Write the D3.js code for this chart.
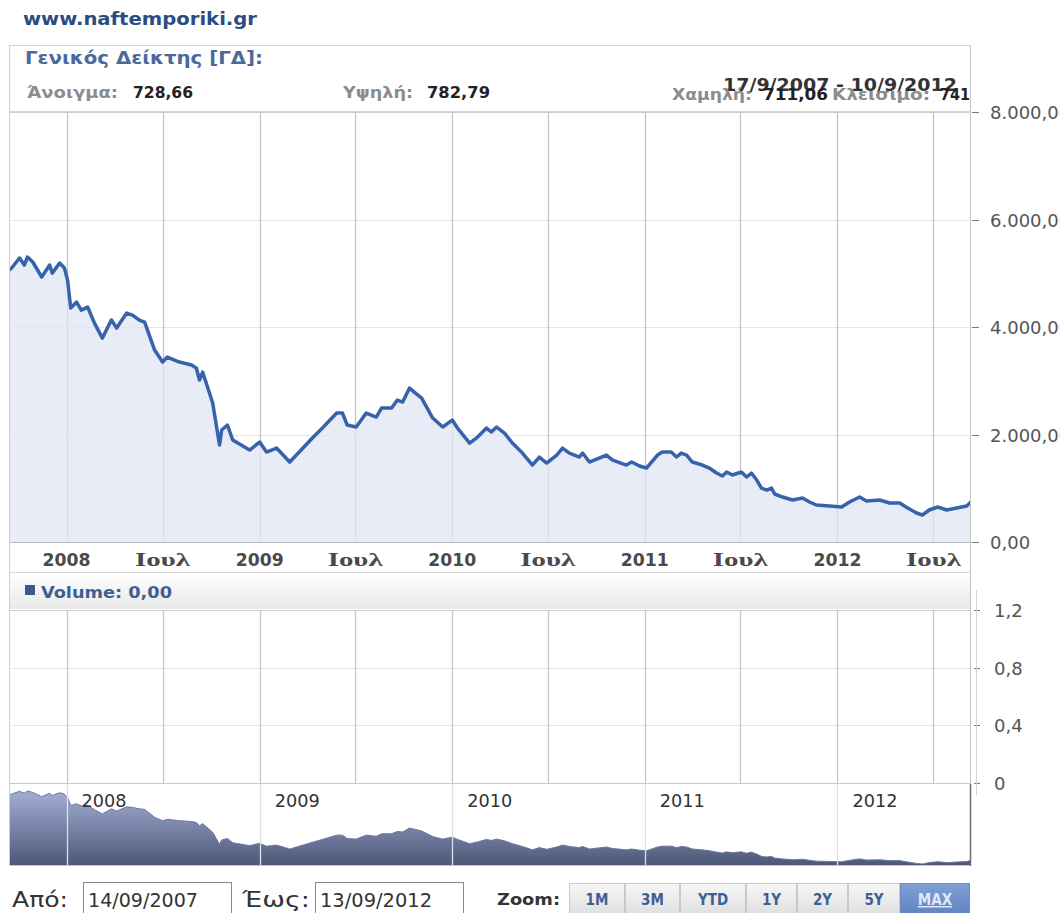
<!DOCTYPE html>
<html><head><meta charset="utf-8">
<script src="https://cdn.jsdelivr.net/npm/d3@7"></script>
<style>body{margin:0;background:#fff;overflow:hidden} svg{display:block}</style>
</head><body>
<svg id="c" width="1060" height="913"></svg>
<script>
// ---------- DATA ----------
const dates = ["2007-09-14","2007-09-19","2007-10-04","2007-10-13","2007-10-19","2007-10-29","2007-11-15","2007-11-30","2007-12-05","2007-12-19","2007-12-28",
"2008-01-03","2008-01-09","2008-01-20","2008-01-29","2008-02-10","2008-02-23","2008-03-09","2008-03-26","2008-04-05","2008-04-24","2008-05-05","2008-05-18","2008-05-28","2008-06-16","2008-07-01","2008-07-10","2008-08-02","2008-08-25","2008-09-03","2008-09-09","2008-09-15","2008-10-04","2008-10-17","2008-10-21","2008-11-01","2008-11-11","2008-12-13",
"2009-01-01","2009-01-14","2009-02-02","2009-02-27","2009-03-17","2009-04-11","2009-04-30","2009-05-27","2009-06-07","2009-06-16","2009-07-03","2009-07-22","2009-08-10","2009-08-20","2009-09-08","2009-09-19","2009-09-29","2009-10-12","2009-10-21","2009-11-04","2009-11-25","2009-12-14",
"2010-01-01","2010-01-11","2010-02-03","2010-02-18","2010-03-07","2010-03-16","2010-03-26","2010-04-10","2010-04-25","2010-05-14","2010-06-02","2010-06-15","2010-06-29","2010-07-18","2010-07-29","2010-08-11","2010-08-30","2010-09-05","2010-09-18","2010-10-20","2010-11-01","2010-11-27","2010-12-07","2010-12-22",
"2011-01-04","2011-01-25","2011-02-03","2011-02-20","2011-03-02","2011-03-11","2011-03-21","2011-04-01","2011-04-20","2011-05-03","2011-05-17","2011-05-28","2011-06-05","2011-06-16","2011-07-03","2011-07-13","2011-07-22","2011-08-01","2011-08-10","2011-08-20","2011-08-29","2011-09-04","2011-09-19","2011-10-08","2011-10-27","2011-11-09","2011-11-22","2011-12-17",
"2012-01-09","2012-01-24","2012-02-12","2012-02-25","2012-03-21","2012-04-09","2012-04-28","2012-05-13","2012-05-30","2012-06-10","2012-06-23","2012-07-09","2012-07-26","2012-08-14","2012-09-02","2012-09-10"];
const values = [5060,5097,5284,5153,5302,5209,4930,5153,5003,5190,5097,
4873,4352,4464,4315,4371,4073,3794,4129,3980,4259,4222,4129,4092,3571,3348,3441,3348,3292,3236,3013,3162,2585,1804,2083,2176,1897,1711,
1860,1674,1748,1488,1674,1934,2120,2399,2399,2176,2139,2399,2325,2492,2492,2641,2604,2864,2790,2678,2306,2139,
2269,2120,1841,1953,2120,2046,2139,2027,1841,1655,1432,1581,1469,1618,1748,1655,1581,1655,1488,1618,1525,1432,1488,1414,
1376,1618,1674,1674,1581,1655,1618,1488,1432,1376,1283,1228,1302,1246,1302,1209,1283,1153,1004,967,1004,893,837,781,818,744,688,670,
651,744,837,763,781,725,725,632,539,502,595,651,595,632,670,744];

const xTickDates = ["2008-01-01","2008-07-01","2009-01-01","2009-07-01","2010-01-01","2010-07-01","2011-01-01","2011-07-01","2012-01-01","2012-07-01"];
const xTickLabels = ["2008","Ιουλ","2009","Ιουλ","2010","Ιουλ","2011","Ιουλ","2012","Ιουλ"];
const navTickDates = ["2008-01-01","2009-01-01","2010-01-01","2011-01-01","2012-01-01"];
const navTickLabels = ["2008","2009","2010","2011","2012"];
const yTicks = [0,2000,4000,6000,8000];
const yTickLabels = ["0,00","2.000,00","4.000,00","6.000,00","8.000,00"];
const volTicks = [0,0.4,0.8,1.2];
const volTickLabels = ["0","0,4","0,8","1,2"];
const zoomButtons = ["1M","3M","YTD","1Y","2Y","5Y","MAX"];
const siteTitle = "www.naftemporiki.gr";
const indexName = "Γενικός Δείκτης [ΓΔ]:";
const periodText = "17/9/2007 - 10/9/2012";
const statLabels = ["Άνοιγμα:","Υψηλή:","Χαμηλή:","Κλεισιμο:"];
const statValues = ["728,66","782,79","711,06","741"];
const volumeLabel = "Volume: 0,00";
const fromDate = "14/09/2007", toDate = "13/09/2012";

// ---------- SETUP ----------
const parse = d3.timeParse("%Y-%m-%d");
const data = dates.map((d,i)=>({date:parse(d), value:values[i]}));
const svg = d3.select("#c");
const FONT = "'DejaVu Sans Condensed','DejaVu Sans',sans-serif";
const AXFONT = "'DejaVu Sans',sans-serif";
const L = 9, R = 971;
const x = d3.scaleTime().domain([parse("2007-09-14"), parse("2012-09-12")]).range([L, 972]);
const y = d3.scaleLinear().domain([0,8000]).range([542,112]);
const yv = d3.scaleLinear().domain([0,1.2]).range([783,610]);
const yn = d3.scaleLinear().domain(d3.extent(values)).range([864,791]);

const defs = svg.append("defs");
const g1 = defs.append("linearGradient").attr("id","band").attr("x1",0).attr("y1",0).attr("x2",0).attr("y2",1);
g1.append("stop").attr("offset",0).attr("stop-color","#ffffff");
g1.append("stop").attr("offset",1).attr("stop-color","#e9e9e9");
const g2 = defs.append("linearGradient").attr("id","nav").attr("x1",0).attr("y1",0).attr("x2",0).attr("y2",1);
g2.append("stop").attr("offset",0).attr("stop-color","#a3aed6");
g2.append("stop").attr("offset",1).attr("stop-color","#4d5878");
const g3 = defs.append("linearGradient").attr("id","btn").attr("x1",0).attr("y1",0).attr("x2",0).attr("y2",1);
g3.append("stop").attr("offset",0).attr("stop-color","#f7f7f7");
g3.append("stop").attr("offset",1).attr("stop-color","#dcdcdc");
const g4 = defs.append("linearGradient").attr("id","btnSel").attr("x1",0).attr("y1",0).attr("x2",0).attr("y2",1);
g4.append("stop").attr("offset",0).attr("stop-color","#7f9fd6");
g4.append("stop").attr("offset",1).attr("stop-color","#5d80c0");
defs.append("clipPath").attr("id","plotClip").append("rect").attr("x",L).attr("y",112).attr("width",R-L).attr("height",430);
defs.append("clipPath").attr("id","navClip").append("rect").attr("x",L).attr("y",784).attr("width",R-L).attr("height",81);
defs.append("clipPath").attr("id","hdrClip").append("rect").attr("x",0).attr("y",0).attr("width",970).attr("height",112);

// title
svg.append("text").attr("x",23).attr("y",25).attr("font-family",FONT).attr("font-weight","bold")
  .attr("font-size",18).attr("fill","#2b4c80").attr("textLength",234).attr("lengthAdjust","spacingAndGlyphs").text(siteTitle);

// header box
svg.append("rect").attr("x",L+0.5).attr("y",45.5).attr("width",R-L-1).attr("height",66).attr("fill","#fff").attr("stroke","#d4d4d4");
const hdr = svg.append("g").attr("clip-path","url(#hdrClip)");
hdr.append("text").attr("x",25).attr("y",64).attr("font-family",FONT).attr("font-weight","bold").attr("font-size",17)
  .attr("fill","#4a6a9c").attr("textLength",238).attr("lengthAdjust","spacingAndGlyphs").text(indexName);
hdr.append("text").attr("x",723).attr("y",91).attr("font-family",FONT).attr("font-weight","bold").attr("font-size",18)
  .attr("fill","#333").attr("textLength",234).attr("lengthAdjust","spacingAndGlyphs").text(periodText);
const statPos = [
  {lx:27,lw:91,vx:133,vw:60,y:98},
  {lx:343,lw:70,vx:427,vw:63,y:98},
  {lx:672,lw:80,vx:763,vw:65,y:100},
  {lx:832,lw:98,vx:940,vw:30,y:100}];
statLabels.forEach((s,i)=>{
  const p = statPos[i];
  hdr.append("text").attr("x",p.lx).attr("y",p.y).attr("font-family",FONT).attr("font-weight","bold").attr("font-size",15)
    .attr("fill","#8c8c8c").attr("textLength",p.lw).attr("lengthAdjust","spacingAndGlyphs").text(s);
  hdr.append("text").attr("x",p.vx).attr("y",p.y).attr("font-family",FONT).attr("font-weight","bold").attr("font-size",16)
    .attr("fill","#222").attr("textLength",p.vw).attr("lengthAdjust","spacingAndGlyphs").text(statValues[i]);
});

// main plot gridlines
const grid = svg.append("g");
grid.selectAll("line.h").data(yTicks.filter(t=>t>0&&t<8000)).join("line")
  .attr("x1",L).attr("x2",R).attr("y1",d=>Math.round(y(d))+0.5).attr("y2",d=>Math.round(y(d))+0.5).attr("stroke","#e6e6e6");
grid.selectAll("line.v").data(xTickDates).join("line")
  .attr("x1",d=>Math.round(x(parse(d)))+0.5).attr("x2",d=>Math.round(x(parse(d)))+0.5).attr("y1",112).attr("y2",542)
  .attr("stroke","#c4c4c4").attr("stroke-width",1.3);

// area + line
const plot = svg.append("g").attr("clip-path","url(#plotClip)");
plot.append("path").datum(data).attr("fill","#dfe6f3").attr("fill-opacity",0.75)
  .attr("d", d3.area().x(d=>x(d.date)).y0(y(0)).y1(d=>y(d.value)));
plot.append("path").datum(data).attr("fill","none").attr("stroke","#3762ac").attr("stroke-width",3.5)
  .attr("stroke-linejoin","round").attr("d", d3.line().x(d=>x(d.date)).y(d=>y(d.value)));

// frame lines
svg.append("line").attr("x1",L).attr("x2",R).attr("y1",112.5).attr("y2",112.5).attr("stroke","#cfcfcf");
svg.append("line").attr("x1",L).attr("x2",R).attr("y1",542.5).attr("y2",542.5).attr("stroke","#b8b8b8");

// x axis labels
const xl = svg.append("g");
xTickDates.forEach((d,i)=>{
  const isYear = /^\d+$/.test(xTickLabels[i]);
  xl.append("text").attr("x",x(parse(d))).attr("y",566).attr("text-anchor","middle")
    .attr("font-family", isYear ? FONT : "'Liberation Serif','DejaVu Serif',serif")
    .attr("font-weight","bold").attr("font-size", isYear ? 17 : 18).attr("fill","#4a4a4a")
    .attr("textLength", isYear ? 48 : 55).attr("lengthAdjust","spacingAndGlyphs").text(xTickLabels[i]);
});
svg.append("line").attr("x1",L).attr("x2",R).attr("y1",572.5).attr("y2",572.5).attr("stroke","#d8d8d8");

// volume band
svg.append("rect").attr("x",L).attr("y",573).attr("width",R-L).attr("height",36).attr("fill","url(#band)");
svg.append("rect").attr("x",25).attr("y",585).attr("width",10).attr("height",10).attr("fill","#3a5a8c");
svg.append("text").attr("x",41).attr("y",598).attr("font-family",FONT).attr("font-weight","bold").attr("font-size",16)
  .attr("fill","#3f5f93").attr("textLength",131).attr("lengthAdjust","spacingAndGlyphs").text(volumeLabel);

// volume panel grid
const vg = svg.append("g");
vg.selectAll("line.h").data(volTicks.filter(t=>t>0)).join("line")
  .attr("x1",L).attr("x2",R).attr("y1",d=>Math.round(yv(d))+0.5).attr("y2",d=>Math.round(yv(d))+0.5)
  .attr("stroke",d=>d===1.2?"#d0d0d0":"#e6e6e6");
vg.selectAll("line.v").data(xTickDates).join("line")
  .attr("x1",d=>Math.round(x(parse(d)))+0.5).attr("x2",d=>Math.round(x(parse(d)))+0.5).attr("y1",610).attr("y2",783)
  .attr("stroke","#c8c8c8").attr("stroke-width",1.3);
svg.append("line").attr("x1",L).attr("x2",R).attr("y1",783.5).attr("y2",783.5).attr("stroke","#c8c8c8");

// navigator
const nav = svg.append("g").attr("clip-path","url(#navClip)");
nav.append("path").datum(data).attr("fill","url(#nav)")
  .attr("d", d3.area().x(d=>x(d.date)).y0(865).y1(d=>yn(d.value)));
nav.append("path").datum(data).attr("fill","none").attr("stroke","#6b78a0").attr("stroke-width",1)
  .attr("d", d3.line().x(d=>x(d.date)).y(d=>yn(d.value)));
nav.selectAll("line.v").data(navTickDates).join("line")
  .attr("x1",d=>Math.round(x(parse(d)))+0.5).attr("x2",d=>Math.round(x(parse(d)))+0.5).attr("y1",784).attr("y2",865)
  .attr("stroke","#dcdfe8").attr("stroke-width",1.3);
navTickDates.forEach((d,i)=>{
  svg.append("text").attr("x",x(parse(d))+15).attr("y",807).attr("font-family",FONT).attr("font-size",17)
    .attr("fill","#333").attr("textLength",45).attr("lengthAdjust","spacingAndGlyphs").text(navTickLabels[i]);
});
svg.append("line").attr("x1",L).attr("x2",R).attr("y1",865.5).attr("y2",865.5).attr("stroke","#c8c8c8");
svg.append("line").attr("x1",970.5).attr("x2",970.5).attr("y1",784).attr("y2",866).attr("stroke","#6e6e6e").attr("stroke-width",1.5);

// outer verticals
svg.append("line").attr("x1",L+0.5).attr("x2",L+0.5).attr("y1",45).attr("y2",866).attr("stroke","#cfcfcf");
svg.append("line").attr("x1",970.5).attr("x2",970.5).attr("y1",45).attr("y2",784).attr("stroke","#c4c4c4");

// right axes
const ax = svg.append("g").attr("font-family",AXFONT).attr("font-size",18).attr("fill","#555");
yTicks.forEach((t,i)=>{
  const yy = Math.round(y(t))+0.5;
  ax.append("line").attr("x1",972).attr("x2",979).attr("y1",yy).attr("y2",yy).attr("stroke","#777");
  ax.append("text").attr("x",990).attr("y",yy+6).text(yTickLabels[i]);
});
volTicks.forEach((t,i)=>{
  const yy = Math.round(yv(t))+0.5;
  ax.append("line").attr("x1",974).attr("x2",980).attr("y1",yy).attr("y2",yy).attr("stroke","#777");
  ax.append("text").attr("x",994).attr("y",yy+6).text(volTickLabels[i]);
});
svg.append("line").attr("x1",976.5).attr("x2",976.5).attr("y1",590).attr("y2",795).attr("stroke","#d4d4d4");

// bottom controls
const ctl = svg.append("g").attr("font-family",FONT);
ctl.append("text").attr("x",12).attr("y",907).attr("font-size",22).attr("fill","#333")
  .attr("textLength",56).attr("lengthAdjust","spacingAndGlyphs").text("Από:");
ctl.append("rect").attr("x",83.5).attr("y",882.5).attr("width",148).attr("height",40).attr("fill","#fff").attr("stroke","#8a8a8a");
ctl.append("text").attr("x",88).attr("y",907).attr("font-size",19).attr("fill","#333")
  .attr("textLength",110).attr("lengthAdjust","spacingAndGlyphs").text(fromDate);
ctl.append("text").attr("x",242).attr("y",907).attr("font-size",22).attr("fill","#333")
  .attr("textLength",68).attr("lengthAdjust","spacingAndGlyphs").text("Έως:");
ctl.append("rect").attr("x",315.5).attr("y",882.5).attr("width",148).attr("height",40).attr("fill","#fff").attr("stroke","#8a8a8a");
ctl.append("text").attr("x",320).attr("y",907).attr("font-size",19).attr("fill","#333")
  .attr("textLength",112).attr("lengthAdjust","spacingAndGlyphs").text(toDate);
ctl.append("text").attr("x",497).attr("y",905).attr("font-size",15).attr("font-weight","bold").attr("fill","#333")
  .attr("textLength",63).attr("lengthAdjust","spacingAndGlyphs").text("Zoom:");
const btnEdges = [569,625,680,746,797,848,900,970];
zoomButtons.forEach((b,i)=>{
  const sel = b==="MAX";
  const x0 = btnEdges[i], w = btnEdges[i+1]-btnEdges[i];
  ctl.append("rect").attr("x",x0+0.5).attr("y",883.5).attr("width",w-1).attr("height",35)
    .attr("fill",sel?"url(#btnSel)":"url(#btn)").attr("stroke",sel?"#6d8cc4":"#c9c9c9");
  const t = ctl.append("text").attr("x",x0+w/2).attr("y",905).attr("text-anchor","middle").attr("font-size",15)
    .attr("font-weight","bold").attr("fill",sel?"#dfe8fb":"#3d5f99").text(b);
  if(sel) t.attr("text-decoration","underline");
});
</script>
</body></html>
